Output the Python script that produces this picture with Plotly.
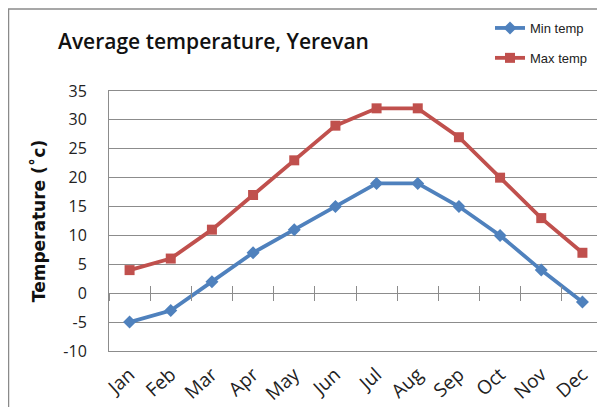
import plotly.graph_objects as go

months = ["Jan", "Feb", "Mar", "Apr", "May", "Jun", "Jul", "Aug", "Sep", "Oct", "Nov", "Dec"]
min_temp = [-5, -3, 2, 7, 11, 15, 19, 19, 15, 10, 4, -1.5]
max_temp = [4, 6, 11, 17, 23, 29, 32, 32, 27, 20, 13, 7]
y_ticks = [-10, -5, 0, 5, 10, 15, 20, 25, 30, 35]

BLUE = "#4F81BD"
RED = "#C0504D"
GRID = "#8c8c8c"

W, H = 605, 407
L, R, T, B = 101, 10, 83, 64
pw, ph = W - L - R, H - T - B

fig = go.Figure()
fig.add_trace(go.Scatter(
    x=months, y=min_temp, name="Min temp", mode="lines+markers",
    line=dict(color=BLUE, width=3.8),
    marker=dict(symbol="diamond", size=10, color=BLUE),
    legendgroup="a",
))
fig.add_trace(go.Scatter(
    x=months, y=max_temp, name="Max temp", mode="lines+markers",
    line=dict(color=RED, width=3.8),
    marker=dict(symbol="square", size=10, color=RED),
    legendgroup="b",
))

font_fam = "Open Sans, DejaVu Sans, sans-serif"
ymin, ymax = y_ticks[0], y_ticks[-1]
zero_pos = (0 - ymin) / (ymax - ymin)

fig.update_layout(
    width=W, height=H,
    margin=dict(l=L, r=R, t=T, b=B, autoexpand=False),
    paper_bgcolor="white", plot_bgcolor="white",
    font=dict(family=font_fam, color="#222222"),
    title=dict(
        text="Average temperature, Yerevan",
        x=50 / W, xanchor="left", y=1 - 34 / H, yanchor="middle",
        font=dict(size=21, color="#111111", family=font_fam, weight=600),
    ),
    showlegend=True,
    legend=dict(
        x=(482 - L) / pw, xanchor="left",
        y=1 + (T - 5) / ph, yanchor="top",
        font=dict(size=13, family="Liberation Sans, Arial, sans-serif", color="#222222"),
        traceorder="grouped", tracegroupgap=10,
        bgcolor="rgba(0,0,0,0)", itemwidth=30,
    ),
    xaxis=dict(
        type="category", categoryorder="array", categoryarray=months,
        range=[-0.5, len(months) - 0.5], automargin=False,
        showgrid=False, showline=True, linecolor=GRID, linewidth=1, mirror=True,
        ticks="", tickangle=-42, ticklabelstandoff=4,
        tickfont=dict(size=19, family=font_fam, color="#222222"),
        zeroline=False,
    ),
    xaxis2=dict(
        overlaying="x", anchor="free", position=zero_pos, automargin=False,
        range=[-0.5, len(months) - 0.5], tick0=0.5, dtick=1,
        showticklabels=False, showgrid=False, showline=False, zeroline=False,
        ticks="outside", ticklen=7, tickcolor=GRID, tickwidth=1,
    ),
    xaxis3=dict(
        overlaying="x", anchor="free", position=zero_pos, automargin=False,
        range=[-0.5, len(months) - 0.5], tick0=0.5, dtick=1,
        showticklabels=False, showgrid=False, showline=False, zeroline=False,
        ticks="inside", ticklen=7, tickcolor=GRID, tickwidth=1,
    ),
    yaxis=dict(
        range=[ymin, ymax], tickmode="array", tickvals=y_ticks,
        ticktext=[str(v) for v in y_ticks], automargin=False,
        showgrid=True, gridcolor=GRID, gridwidth=1,
        showline=True, linecolor=GRID, linewidth=1, mirror=True,
        zeroline=False, ticks="", ticklabelstandoff=18,
        tickfont=dict(size=16, family=font_fam, color="#222222"),
        title=dict(text="Temperature (˚c)", standoff=13,
                   font=dict(size=17, family="DejaVu Sans, sans-serif", color="#111111", weight="bold")),
    ),
    shapes=[dict(
        type="rect", xref="paper", yref="paper",
        x0=(0.5 - L) / pw, x1=1.2, y0=-0.5, y1=1 + (T - 1) / ph,
        line=dict(color="#8a8a8a", width=1.5), fillcolor="rgba(0,0,0,0)", layer="below",
    )],
)

# invisible traces to activate the tick-only axes
fig.add_trace(go.Scatter(x=[0], y=[0], xaxis="x2", mode="markers",
                         marker=dict(opacity=0), showlegend=False, hoverinfo="skip"))
fig.add_trace(go.Scatter(x=[0], y=[0], xaxis="x3", mode="markers",
                         marker=dict(opacity=0), showlegend=False, hoverinfo="skip"))

fig.write_html("out.html")
